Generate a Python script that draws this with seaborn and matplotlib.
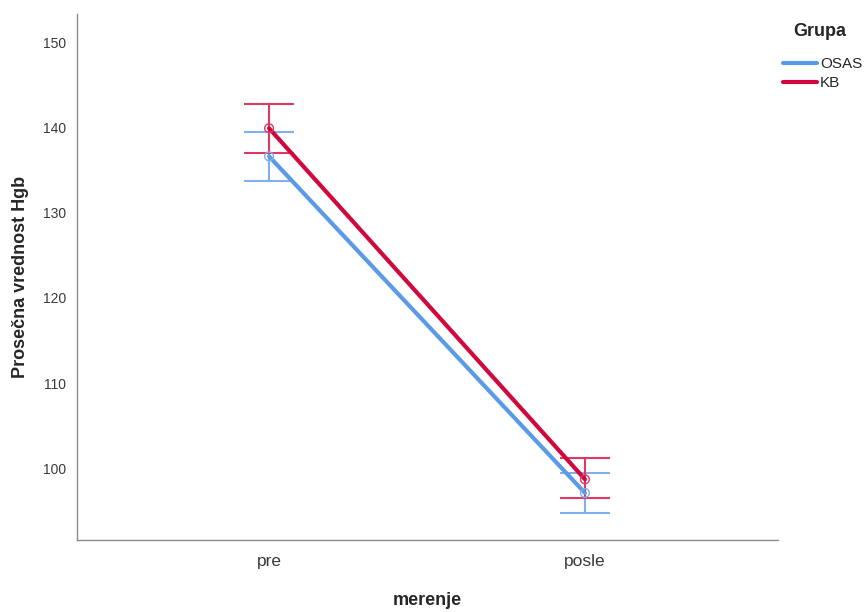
import matplotlib
matplotlib.use("Agg")
import matplotlib.pyplot as plt
import seaborn as sns
import pandas as pd

# Mean Hgb by measurement and group, with 95% CI bounds
merenje = ["pre", "posle"]
grupe = ["OSAS", "KB"]
osas_mean = [136.6, 97.1]
osas_low = [133.7, 94.7]
osas_high = [139.5, 99.4]
kb_mean = [139.9, 98.7]
kb_low = [137.0, 96.5]
kb_high = [142.8, 101.2]

colors = {"OSAS": "#5b9ae6", "KB": "#d1083e"}
err_colors = {"OSAS": "#7fb0ec", "KB": "#dc3a62"}

rows = []
for g, m, lo, hi in [("OSAS", osas_mean, osas_low, osas_high),
                     ("KB", kb_mean, kb_low, kb_high)]:
    for i, lab in enumerate(merenje):
        rows.append({"merenje": lab, "pos": i, "Grupa": g,
                     "mean": m[i], "low": lo[i], "high": hi[i]})
df = pd.DataFrame(rows)

sns.set_style("white")
plt.rcParams["font.family"] = ["Liberation Sans", "DejaVu Sans"]

fig = plt.figure(figsize=(8.65, 6.12), dpi=100)
ax = fig.add_axes([0.089, 0.118, 0.81, 0.859])

for g in grupe:
    sub = df[df["Grupa"] == g]
    ax.errorbar(sub["pos"], sub["mean"],
                yerr=[sub["mean"] - sub["low"], sub["high"] - sub["mean"]],
                fmt="none", ecolor=err_colors[g], elinewidth=1.5,
                capsize=18, capthick=1.5, zorder=2)

sns.lineplot(data=df, x="pos", y="mean", hue="Grupa", hue_order=grupe,
             palette=colors, linewidth=3.0, ax=ax, zorder=3, legend=True)

for g in grupe:
    sub = df[df["Grupa"] == g]
    ax.scatter(sub["pos"], sub["mean"], s=40, facecolors="none",
               edgecolors=err_colors[g], linewidths=1.0, zorder=4)

ax.set_xlim(-0.608, 1.61)
ax.set_ylim(91.6, 153.3)
ax.set_xticks([0, 1])
ax.set_xticklabels(merenje, fontsize=12.5, color="#3a3a3a")
ax.set_yticks([100, 110, 120, 130, 140, 150])
ax.set_yticklabels(["100", "110", "120", "130", "140", "150"],
                   fontsize=10, color="#3a3a3a")
ax.tick_params(axis="both", length=0, pad=8)
ax.tick_params(axis="x", pad=10)

ax.set_xlabel("merenje", fontsize=13, fontweight="bold", labelpad=17)
ax.set_ylabel("Prosečna vrednost Hgb", fontsize=13, fontweight="bold", labelpad=10)

for side in ["top", "right"]:
    ax.spines[side].set_visible(False)
for side in ["left", "bottom"]:
    ax.spines[side].set_color("#8c8c8c")
    ax.spines[side].set_linewidth(1.0)

leg = ax.legend(title="Grupa", loc="upper left", bbox_to_anchor=(0.995, 1.0),
                frameon=False, fontsize=11, title_fontproperties={"weight": "bold", "size": 13},
                handlelength=2.2, handletextpad=0.2, labelspacing=0.35,
                borderaxespad=0.2)
leg._legend_box.align = "left"
leg._legend_box.sep = 12
leg.get_title().set_position((10, 0))
for h in leg.get_lines():
    h.set_linewidth(3.0)

fig.savefig("out.png", dpi=100)
